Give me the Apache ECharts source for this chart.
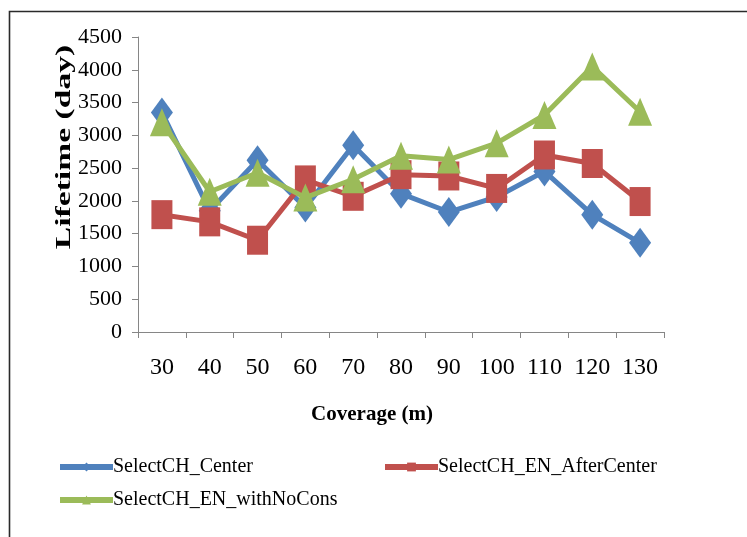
<!DOCTYPE html>
<html>
<head>
<meta charset="utf-8">
<script src="https://cdn.jsdelivr.net/npm/echarts@6/dist/echarts.min.js"></script>
<style>
  html, body { margin: 0; padding: 0; background: #fff; }
  #chart { width: 747px; height: 537px; }
</style>
</head>
<body>
<div id="chart"></div>
<script>
// Coverage radius (m) on the x axis
const coverage = ['30', '40', '50', '60', '70', '80', '90', '100', '110', '120', '130'];

// Network lifetime (days) for each cluster-head selection scheme
const selectCenter      = [3350, 1850, 2620, 1900, 2850, 2110, 1830, 2060, 2450, 1790, 1360];
const selectAfterCenter = [1790, 1680, 1400, 2320, 2070, 2400, 2380, 2190, 2700, 2570, 1990];
const selectNoCons      = [3200, 2140, 2430, 2050, 2330, 2690, 2630, 2880, 3310, 4050, 3360];

const seriesNames = ['SelectCH_Center', 'SelectCH_EN_AfterCenter', 'SelectCH_EN_withNoCons'];
const yTicks = { min: 0, max: 4500, step: 500 };

const FONT = '"Liberation Serif", "Times New Roman", serif';
const AXIS_GREY = '#868686';

const chart = echarts.init(document.getElementById('chart'), null, { renderer: 'canvas' });

function legendItem(name, left, top) {
  return {
    data: [name],
    left: left,
    top: top,
    itemWidth: 53,
    itemHeight: 11,
    itemGap: 0,
    padding: 0,
    selectedMode: false,
    lineStyle: { width: 6 },
    textStyle: { fontFamily: FONT, fontSize: 20, color: '#000', padding: [0, 0, 0, -5] }
  };
}

chart.setOption({
  animation: false,
  backgroundColor: '#fff',
  grid: { left: 138, right: 83, top: 37, bottom: 205, containLabel: false },
  legend: [
    legendItem(seriesNames[0], 57, 457),
    legendItem(seriesNames[1], 382, 457),
    legendItem(seriesNames[2], 57, 490)
  ],
  xAxis: {
    type: 'category',
    data: coverage,
    boundaryGap: true,
    name: 'Coverage (m)',
    nameLocation: 'middle',
    nameGap: 72,
    nameTextStyle: {
      fontFamily: FONT, fontSize: 21, fontWeight: 'bold', color: '#000',
      padding: [0, 58, 0, 0]
    },
    axisLine: { lineStyle: { color: AXIS_GREY, width: 1 } },
    axisTick: { show: true, alignWithLabel: false, length: 6, lineStyle: { color: AXIS_GREY } },
    axisLabel: { fontFamily: FONT, fontSize: 24, color: '#000', margin: 24 },
    splitLine: { show: false }
  },
  yAxis: {
    type: 'value',
    min: yTicks.min,
    max: yTicks.max,
    interval: yTicks.step,
    axisLine: { show: true, lineStyle: { color: AXIS_GREY, width: 1 } },
    axisTick: { show: true, length: 6, lineStyle: { color: AXIS_GREY } },
    axisLabel: {
      fontFamily: FONT, fontSize: 22, color: '#000', margin: 16,
      formatter: v => String(v)
    },
    splitLine: { show: false }
  },
  graphic: [
    {
      // outer frame (top and left edges visible)
      type: 'rect',
      left: 7, top: 9,
      shape: { x: 0, y: 0, width: 800, height: 600 },
      style: { fill: 'none', stroke: '#2a2a2a', lineWidth: 1.6 },
      silent: true
    },
    {
      // y-axis title, rotated and stretched along its length
      type: 'text',
      x: 65, y: 147,
      rotation: Math.PI / 2,
      scaleX: 1.6,
      style: {
        text: 'Lifetime (day)',
        font: 'bold 21px ' + FONT,
        fill: '#000',
        align: 'center',
        verticalAlign: 'middle'
      },
      silent: true
    }
  ],
  series: [
    {
      name: seriesNames[0],
      type: 'line',
      data: selectCenter,
      color: '#4F81BD',
      symbol: 'diamond',
      symbolSize: [22, 30],
      lineStyle: { width: 5, color: '#4F81BD' },
      itemStyle: { color: '#4F81BD' },
      z: 2
    },
    {
      name: seriesNames[1],
      type: 'line',
      data: selectAfterCenter,
      color: '#C0504D',
      symbol: 'rect',
      symbolSize: [21, 29],
      lineStyle: { width: 5, color: '#C0504D' },
      itemStyle: { color: '#C0504D' },
      z: 3
    },
    {
      name: seriesNames[2],
      type: 'line',
      data: selectNoCons,
      color: '#9BBB59',
      symbol: 'triangle',
      symbolSize: [24, 28],
      lineStyle: { width: 5, color: '#9BBB59' },
      itemStyle: { color: '#9BBB59' },
      z: 4
    }
  ]
});
</script>
</body>
</html>
